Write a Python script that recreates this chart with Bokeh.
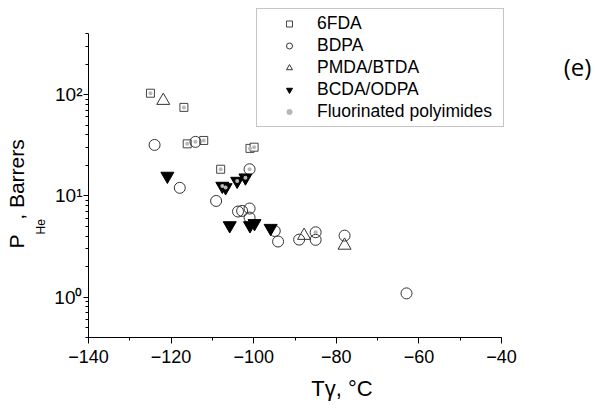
import math
from bokeh.plotting import figure
from bokeh.models import (Legend, LegendItem, Label, Title, FixedTicker,
                          SingleIntervalTicker, Range1d)
from bokeh.embed import file_html
from bokeh.resources import INLINE

# ---- data ----
fda_x = [-125.0, -116.9, -116.1, -112.1, -100.9, -99.9, -108.0]
fda_y = [103, 74.6, 32.6, 35.2, 29.4, 30.2, 18.3]

bdpa_x = [-124.0, -114.1, -101.0, -117.9, -109.1, -103.8, -102.8, -101.0,
          -101.0, -94.9, -94.1, -89.0, -85.0, -85.0, -78.0, -63.0]
bdpa_y = [31.8, 34.1, 18.3, 12.0, 8.9, 7.0, 7.1, 7.5,
          6.1, 4.5, 3.54, 3.7, 4.37, 3.68, 4.05, 1.09]

pmda_x = [-121.9, -87.8, -78.0]
pmda_y = [87, 4.05, 3.24]

bcda_x = [-120.9, -107.6, -106.8, -104.0, -102.0, -105.8, -100.9, -99.8, -95.9]
bcda_y = [15.7, 12.5, 12.1, 14.0, 15.1, 5.1, 5.1, 5.35, 4.8]

fluor_x = [-125.0, -116.9, -116.1, -112.1, -100.9, -99.9, -108.0,
           -114.1, -101.0, -85.0, -107.6, -106.8, -104.0, -102.0]
fluor_y = [103, 74.6, 32.6, 35.2, 29.4, 30.2, 18.3,
           34.1, 18.3, 4.37, 12.5, 12.1, 14.0, 15.1]

x_min, x_max = -140, -40
y_min, y_max = 0.4, 400
y_ticks = [1, 10, 100]
y_tick_labels = {1: "10\u2070", 10: "10\u00b9", 100: "10\u00b2"}

FONT = "Liberation Sans"

# the axes occupy 413 x 304 px; the frame is extended to the top/right so that the
# legend and panel label (which lie outside the axes box) are not clipped
AX_W, AX_H = 413, 304
FR_W, FR_H = 507, 337
x_end = x_min + FR_W * (x_max - x_min) / AX_W
ldec = math.log10(y_max) - math.log10(y_min)
y_end = 10 ** (math.log10(y_max) + (FR_H - AX_H) * ldec / AX_H)

p = figure(frame_width=FR_W, frame_height=FR_H,
           min_border_left=88, min_border_right=0,
           min_border_top=0, min_border_bottom=71,
           x_range=Range1d(x_min, x_end), y_range=Range1d(y_min, y_end),
           y_axis_type="log",
           output_backend="svg", toolbar_location=None)
p.outline_line_color = None
p.xgrid.visible = False
p.ygrid.visible = False
p.background_fill_color = "white"
p.border_fill_color = "white"

# x axis
xa = p.xaxis[0]
xa.bounds = (x_min, x_max)
xa.ticker = SingleIntervalTicker(interval=20, num_minor_ticks=2)
xa.axis_line_color = "black"
xa.major_tick_in = 0
xa.major_tick_out = 6
xa.minor_tick_in = 0
xa.minor_tick_out = 3
xa.major_label_text_font = FONT
xa.major_label_text_font_size = "18px"
xa.major_label_text_color = "black"
xa.major_label_standoff = 6
xa.axis_label = "T\u03b3, \u00b0C"
xa.axis_label_text_font = FONT
xa.axis_label_text_font_size = "22px"
xa.axis_label_text_font_style = "normal"
xa.axis_label_text_color = "black"
xa.axis_label_standoff = 10

# y axis
ya = p.yaxis[0]
ya.bounds = (y_min, y_max)
minor = ([0.4, 0.5, 0.6, 0.7, 0.8, 0.9] + list(range(2, 10)) +
         list(range(20, 100, 10)) + [200, 300, 400])
ya.ticker = FixedTicker(ticks=y_ticks, minor_ticks=minor)
ya.major_label_overrides = y_tick_labels
ya.axis_line_color = "black"
ya.major_tick_in = 0
ya.major_tick_out = 5
ya.minor_tick_in = 0
ya.minor_tick_out = 3
ya.major_label_text_font = FONT
ya.major_label_text_font_size = "19px"
ya.major_label_text_color = "black"
ya.major_label_standoff = 1

LC = "#333333"
r_fda = p.scatter(fda_x, fda_y, marker="square", size=8, fill_color="white",
                  line_color="#444444", line_width=1)
r_bdpa = p.scatter(bdpa_x, bdpa_y, marker="circle", size=11, fill_color="white",
                   fill_alpha=0.0, line_color=LC, line_width=1)
r_pmda = p.scatter(pmda_x, pmda_y, marker="triangle", size=13, fill_color="white",
                   fill_alpha=0.0, line_color=LC, line_width=1)
r_bcda = p.scatter(bcda_x, bcda_y, marker="inverted_triangle", size=13,
                   fill_color="black", line_color="black", line_width=1)
r_fl = p.scatter(fluor_x, fluor_y, marker="circle", size=4, fill_color="#b8b8b8",
                 line_color=None)

legend = Legend(items=[
    LegendItem(label="6FDA", renderers=[r_fda]),
    LegendItem(label="BDPA", renderers=[r_bdpa]),
    LegendItem(label="PMDA/BTDA", renderers=[r_pmda]),
    LegendItem(label="BCDA/ODPA", renderers=[r_bcda]),
    LegendItem(label="Fluorinated polyimides", renderers=[r_fl]),
], location=(168, 210))
legend.margin = 0
legend.padding = 4
legend.spacing = 1
legend.label_height = 20
legend.glyph_height = 15
legend.glyph_width = 56
legend.label_standoff = 0
legend.label_width = 182
legend.label_text_font = FONT
legend.label_text_font_size = "17.5px"
legend.label_text_color = "black"
legend.border_line_color = "#8c8c8c"
legend.border_line_width = 1
legend.background_fill_color = "white"
legend.background_fill_alpha = 1.0
p.add_layout(legend, "center")

# y axis title "P_He, Barrers": subscript column next to the tick labels,
# main text column further out (both rotated titles in the left panel)
p.add_layout(Title(text="He", align="left", offset=103, standoff=8,
                   text_font=FONT, text_font_size="12px", text_font_style="normal",
                   text_line_height=0.6, text_color="black"), "left")
p.add_layout(Title(text="P\u2002\u2009, Barrers", align="left", offset=89, standoff=0,
                   text_font=FONT, text_font_size="21px", text_font_style="normal",
                   text_line_height=0.9, text_color="black"), "left")

# panel label
p.add_layout(Label(x=489, y=271, x_units="screen", y_units="screen",
                   text="(e)", text_font="Open Sans", text_font_size="24px",
                   text_baseline="alphabetic", text_align="center", text_color="black"))

open("out.html", "w").write(file_html(p, INLINE))
